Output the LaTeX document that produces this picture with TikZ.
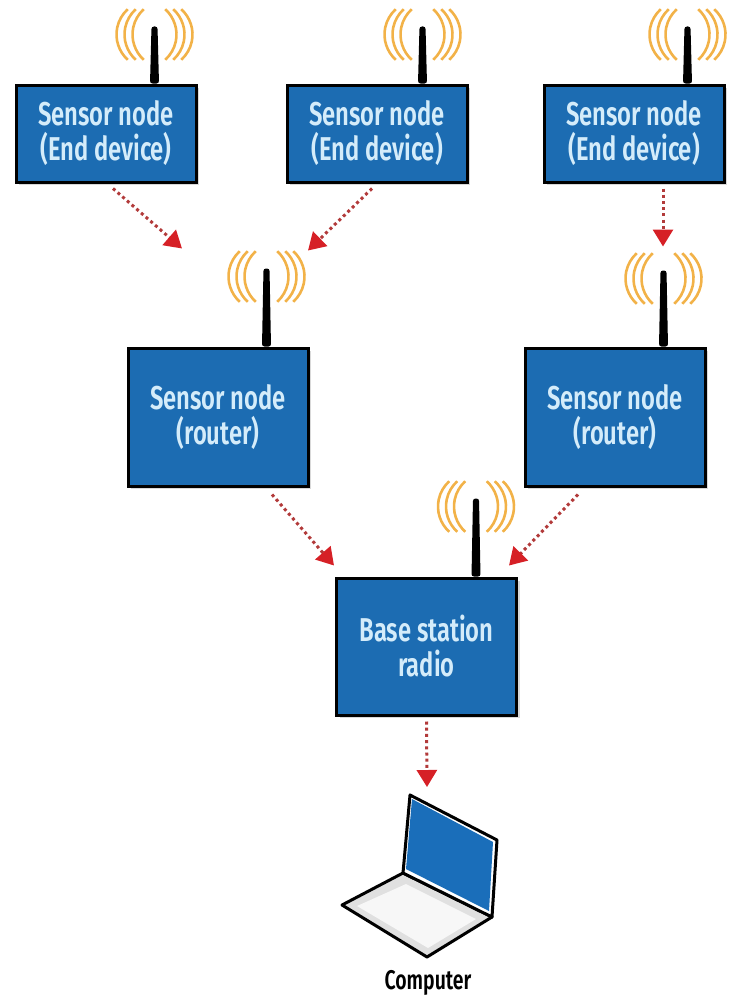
\documentclass[tikz,border=0pt]{standalone}
\usepackage{fontspec}
\usetikzlibrary{arrows.meta,positioning,calc,shadows}
\newfontfamily\netfont[FakeStretch=0.72]{Fira Sans SemiBold}

\definecolor{nodeblue}{RGB}{28,108,178}
\definecolor{nodetext}{RGB}{212,236,250}
\definecolor{waveorange}{RGB}{242,178,72}
\definecolor{dotred}{RGB}{178,58,58}
\definecolor{tipred}{RGB}{214,32,38}
\definecolor{screenblue}{RGB}{26,110,186}
\definecolor{kbgray}{RGB}{224,224,224}

% mast + three radio arcs on each side; #1 node, #2 inset from east, #3 mast length
\providecommand{\antenna}[3]{%
  \coordinate (#1-ant) at ($(#1.north east)+(-#2,0)$);
  \fill[black, rounded corners=2.5pt] ($(#1-ant)+(-4.5,0)$) -- ($(#1-ant)+(-3,-#3)$)
    -- ($(#1-ant)+(3,-#3)$) -- ($(#1-ant)+(4.5,0)$) -- cycle;
  \coordinate (#1-tip) at ($(#1-ant)+(0,-#3+8)$);
  \foreach \r in {22,30,38}{
    \draw[swave] ($(#1-tip)+(\r-34,0)+(-48:34)$) arc[start angle=-48,end angle=48,radius=34];
    \draw[swave] ($(#1-tip)+(34-\r,0)+(132:34)$) arc[start angle=132,end angle=228,radius=34];
  }}

\tikzset{
  sbox/.style    ={draw=black, line width=3pt, fill=nodeblue, align=center,
                   text=nodetext, font=\netfont\fontsize{33}{35}\selectfont,
                   minimum width=180pt, inner sep=0pt,
                   drop shadow={shadow xshift=3pt, shadow yshift=-3pt, opacity=.3}},
  send/.style    ={sbox, minimum height=97pt},
  srouter/.style ={sbox, minimum height=138pt},
  swave/.style   ={draw=waveorange, line width=2.6pt},
  sarrow/.style  ={draw=dotred, line width=3pt, dash pattern=on 3pt off 3.2pt,
                   -{Triangle[length=17pt,width=20pt,color=tipred]}},
  slaptop/.style ={draw=black, line width=3pt, line join=round},
  spclabel/.style={font=\netfont\fontsize{27}{28}\selectfont, text=black},
}

\begin{document}
\begin{tikzpicture}[x=1pt, y=-1pt]
  \useasboundingbox (0,0) rectangle (728,998);

  % ---- end devices ----
  \node[send] (e1) at (106,133.5) {Sensor node\\(End device)};
  \node[send] (e2) at (377,133.5) {Sensor node\\(End device)};
  \node[send] (e3) at (634,133.5) {Sensor node\\(End device)};

  % ---- routers ----
  \node[srouter] (r1) at (218,417) {Sensor node\\(router)};
  \node[srouter] (r2) at (615,417) {Sensor node\\(router)};

  % ---- base station ----
  \node[srouter, minimum height=137pt] (base) at (426.5,646.5) {Base station\\radio};

  % ---- antennas ----
  \antenna{e1}{43}{57}
  \antenna{e2}{46}{57}
  \antenna{e3}{38}{57}
  \antenna{r1}{43}{78}
  \antenna{r2}{43}{76}
  \antenna{base}{42}{78}

  % ---- computer ----
  \filldraw[slaptop, fill=kbgray] (403,873) -- (492,917) -- (427,957) -- (342,905) -- cycle;
  \fill[gray!6] (406,884) -- (476,919) -- (428,948) -- (357,906) -- cycle;
  \filldraw[slaptop, fill=white] (403,873) -- (410,795) -- (497,840) -- (492,917) -- cycle;
  \fill[screenblue] (406,869) -- (412,799) -- (493,842) -- (489,911) -- cycle;
  \coordinate (pc-top) at (427,787);
  \node[spclabel] (pc) at (428,983) {Computer};

  % ---- arrows ----
  \draw[sarrow] ($(e1.south)+(7,5)$) -- ($(r1.north)+(-36,-98)$);
  \draw[sarrow] ($(e2.south)+(-5,5)$) -- ($(r1.north)+(90,-96)$);
  \draw[sarrow] ($(e3.south)+(29,5)$) -- ($(r2.north)+(48,-100)$);
  \draw[sarrow] ($(r1.south)+(54,7)$) -- ($(base.north west)+(-1,-11)$);
  \draw[sarrow] ($(r2.south)+(-37,7)$) -- ($(base.north east)+(-9,-11)$);
  \draw[sarrow] ($(base.south)+(0,5)$) -- (pc-top);

\end{tikzpicture}
\end{document}
